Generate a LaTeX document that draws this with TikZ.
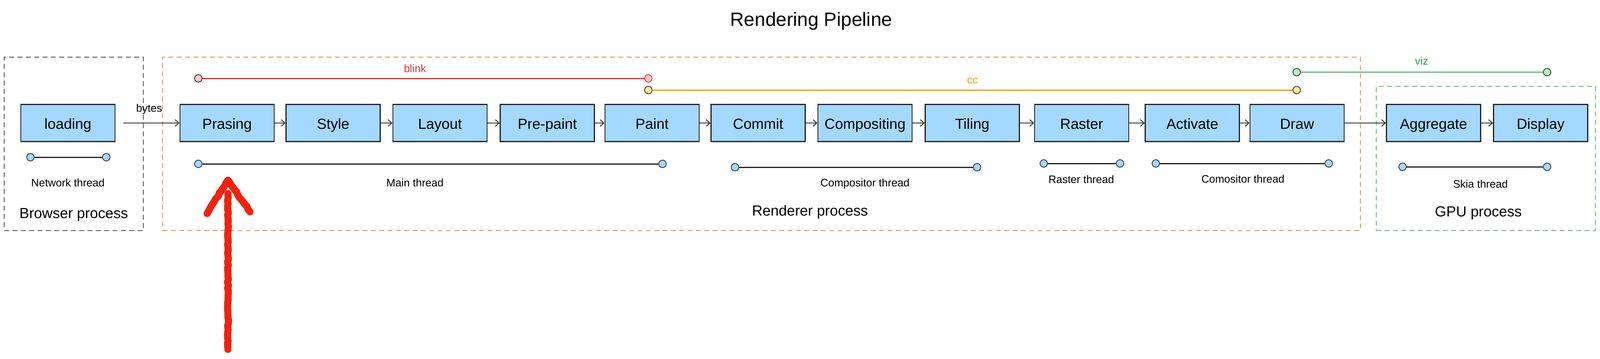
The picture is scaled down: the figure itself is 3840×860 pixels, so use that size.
\documentclass[tikz,border=0pt]{standalone}
\usepackage{fontspec}
\setmainfont{Liberation Sans}
\usetikzlibrary{arrows.meta,decorations.pathmorphing}
\definecolor{boxblue}{HTML}{A5D8FF}
\definecolor{blinkred}{HTML}{E03131}
\definecolor{blinkpink}{HTML}{FFC9C9}
\definecolor{ccorange}{HTML}{F59F00}
\definecolor{ccyellow}{HTML}{FFEC99}
\definecolor{vizgreen}{HTML}{2F9E44}
\definecolor{vizlight}{HTML}{B2F2BB}
\definecolor{rendorange}{HTML}{F08C4B}
\definecolor{gpugreen}{HTML}{5FBF6A}
\definecolor{brgray}{HTML}{555555}
\definecolor{sketchred}{HTML}{EC2410}
\begin{document}
\begin{tikzpicture}[x=1pt,y=-1pt,
  stage/.style={draw=black!85, fill=boxblue, line width=2.5pt, minimum width=226pt, minimum height=89pt, inner sep=0pt, text height=28pt, text depth=0pt, font=\fontsize{35}{40}\selectfont},
  proc/.style={draw, line width=2pt, dash pattern=on 12pt off 8pt, inner sep=0pt},
  dotnode/.style={circle, draw=black!80, line width=1.8pt, minimum size=18pt, inner sep=0pt},
  tdot/.style={dotnode, fill=boxblue},
  flow/.style={line width=2pt, draw=black!80, -{Straight Barb[length=9pt,width=16pt]}},
  tline/.style={line width=3pt, draw=black!85},
  small/.style={anchor=base, inner sep=0pt, font=\fontsize{26}{30}\selectfont},
  big/.style={anchor=base, inner sep=0pt, font=\fontsize{35}{40}\selectfont},
  sketch/.style={draw=sketchred, line width=17pt, line cap=round, line join=round, decorate, decoration={random steps, segment length=7pt, amplitude=1.5pt}},
]
\useasboundingbox (0,0) rectangle (3840,860);
\fill[white] (0,0) rectangle (3840,860);

% title
\node[anchor=base, inner sep=0pt, font=\fontsize{46}{52}\selectfont] (title) at (1947,62) {Rendering Pipeline};

% process containers
\node[proc, draw=brgray, minimum width=334pt, minimum height=416pt] (browser) at (177,345) {};
\node[proc, draw=rendorange, minimum width=2875pt, minimum height=416pt] (renderer) at (1827.5,345) {};
\node[proc, draw=gpugreen, minimum width=526pt, minimum height=346pt] (gpu) at (3566,380) {};

\node[big] (lbrowser) at (177,523) {Browser process};
\node[big] (lrenderer) at (1944,517) {Renderer process};
\node[big] (lgpu) at (3548,519) {GPU process};

% stages
\node[stage] (loading) at (163,295) {loading};
\node[stage] (prasing) at (545,295) {Prasing};
\node[stage] (style) at (799.5,295) {Style};
\node[stage] (layout) at (1056,295) {Layout};
\node[stage] (prepaint) at (1313.5,295) {Pre-paint};
\node[stage] (paint) at (1565,295) {Paint};
\node[stage] (commit) at (1819.5,295) {Commit};
\node[stage] (compositing) at (2076,295) {Compositing};
\node[stage] (tiling) at (2333.5,295) {Tiling};
\node[stage] (raster) at (2596,295) {Raster};
\node[stage] (activate) at (2861.5,295) {Activate};
\node[stage] (sdraw) at (3113,295) {Draw};
\node[stage] (aggregate) at (3440.5,295) {Aggregate};
\node[stage] (display) at (3697.5,295) {Display};

% flow arrows
\draw[flow, shorten <=19pt] (loading) -- (prasing);
\node[small] (bytes) at (358,268) {bytes};
\draw[flow] (prasing) -- (style);
\draw[flow] (style) -- (layout);
\draw[flow] (layout) -- (prepaint);
\draw[flow] (prepaint) -- (paint);
\draw[flow] (paint) -- (commit);
\draw[flow] (commit) -- (compositing);
\draw[flow] (compositing) -- (tiling);
\draw[flow] (tiling) -- (raster);
\draw[flow] (raster) -- (activate);
\draw[flow] (activate) -- (sdraw);
\draw[flow] (sdraw) -- (aggregate);
\draw[flow] (aggregate) -- (display);

% module spans
\node[dotnode, fill=blinkpink] (b1) at (476,188) {};
\node[dotnode, draw=blinkred, fill=blinkpink] (b2) at (1556,188) {};
\draw[line width=3pt, blinkred] (b1) -- (b2);
\node[small, text=blinkred] (lblink) at (996,173) {blink};

\node[dotnode, fill=ccyellow] (c1) at (1556,216) {};
\node[dotnode, fill=ccyellow] (c2) at (3112,216) {};
\draw[line width=3pt, ccorange] (c1) -- (c2);
\node[small, text=ccorange] (lcc) at (2334,200) {cc};

\node[dotnode, fill=vizlight] (v1) at (3112,173) {};
\node[dotnode, fill=vizlight] (v2) at (3713,173) {};
\draw[line width=2.5pt, vizgreen] (v1) -- (v2);
\node[small, text=vizgreen] (lviz) at (3412,155) {viz};

% threads
\node[tdot] (n1) at (73,377) {};
\node[tdot] (n2) at (255,377) {};
\draw[tline] (n1) -- (n2);
\node[small] (lnet) at (163,447) {Network thread};

\node[tdot] (m1) at (476,393) {};
\node[tdot] (m2) at (1590,393) {};
\draw[tline] (m1) -- (m2);
\node[small] (lmain) at (996,447) {Main thread};

\node[tdot] (k1) at (1764,401) {};
\node[tdot] (k2) at (2345,401) {};
\draw[tline] (k1) -- (k2);
\node[small] (lcomp) at (2076,447) {Compositor thread};

\node[tdot] (r1) at (2505,392) {};
\node[tdot] (r2) at (2688,392) {};
\draw[tline] (r1) -- (r2);
\node[small] (lraster) at (2595,439) {Raster thread};

\node[tdot] (a1) at (2774,392) {};
\node[tdot] (a2) at (3189,392) {};
\draw[tline] (a1) -- (a2);
\node[small] (lcomo) at (2983,438) {Comositor thread};

\node[tdot] (s1) at (3366,400) {};
\node[tdot] (s2) at (3713,400) {};
\draw[tline] (s1) -- (s2);
\node[small] (lskia) at (3553,450) {Skia thread};

% red hand-drawn arrow
\coordinate (tail) at (547,838);
\coordinate (shafttop) at (547,464);
\coordinate (tip) at (547,432);
\coordinate (wl) at (497,512);
\coordinate (wr) at (600,508);
\draw[sketch] (tail) -- (shafttop);
\draw[sketch] (wl) -- (tip) -- (wr);
\end{tikzpicture}
\end{document}
